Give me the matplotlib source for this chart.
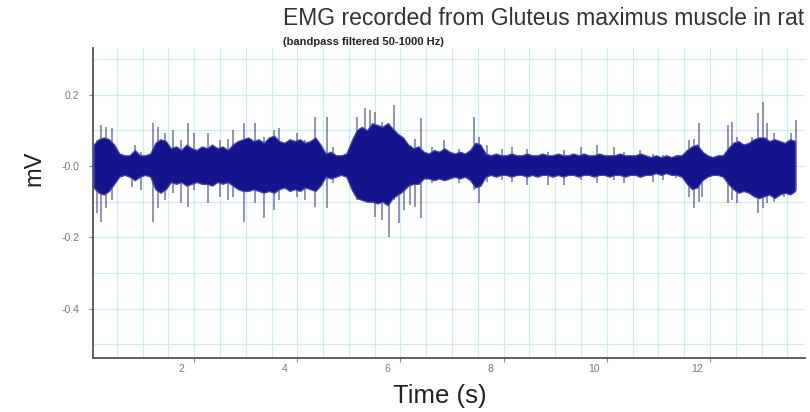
#!/usr/bin/env python3
# -*- coding: utf-8 -*-
import numpy as np
import matplotlib

matplotlib.use("Agg")

import matplotlib.pyplot as plt
import matplotlib.ticker as mticker
import matplotlib.transforms as mtransforms

IMAGE_DPI = 100.0

# dense core of the EMG trace, one value per 0.1 s bin (mV)
bin_start = 0.05
bin_width = 0.1
core_hi = [
    0.06, 0.075, 0.08, 0.075, 0.06, 0.035, 0.03, 0.03, 0.045, 0.03,
    0.03, 0.035, 0.065, 0.075, 0.07, 0.05, 0.055, 0.045, 0.06, 0.05,
    0.045, 0.055, 0.05, 0.06, 0.05, 0.055, 0.045, 0.06, 0.07, 0.075,
    0.08, 0.07, 0.075, 0.065, 0.08, 0.085, 0.07, 0.065, 0.075, 0.07,
    0.075, 0.065, 0.07, 0.08, 0.06, 0.035, 0.04, 0.03, 0.03, 0.035,
    0.07, 0.1, 0.11, 0.1, 0.12, 0.115, 0.11, 0.12, 0.105, 0.09,
    0.08, 0.06, 0.05, 0.055, 0.04, 0.035, 0.045, 0.04, 0.05, 0.04,
    0.035, 0.04, 0.035, 0.045, 0.065, 0.06, 0.035, 0.03, 0.035, 0.03,
    0.03, 0.035, 0.03, 0.03, 0.035, 0.03, 0.03, 0.035, 0.03, 0.03,
    0.035, 0.03, 0.03, 0.035, 0.03, 0.035, 0.03, 0.03, 0.035, 0.03,
    0.03, 0.03, 0.035, 0.03, 0.03, 0.03, 0.035, 0.03, 0.025, 0.03,
    0.025, 0.03, 0.025, 0.03, 0.03, 0.045, 0.055, 0.06, 0.04, 0.03,
    0.025, 0.03, 0.03, 0.05, 0.065, 0.07, 0.06, 0.065, 0.075, 0.08,
    0.08, 0.07, 0.075, 0.07, 0.065, 0.075, 0.07,
]
core_lo = [
    -0.06, -0.075, -0.08, -0.07, -0.05, -0.03, -0.025, -0.03, -0.04, -0.03,
    -0.025, -0.03, -0.065, -0.075, -0.065, -0.045, -0.05, -0.045, -0.055, -0.05,
    -0.045, -0.05, -0.05, -0.055, -0.045, -0.05, -0.045, -0.055, -0.065, -0.07,
    -0.07, -0.065, -0.07, -0.075, -0.07, -0.075, -0.065, -0.06, -0.07, -0.065,
    -0.07, -0.06, -0.065, -0.07, -0.055, -0.03, -0.035, -0.03, -0.025, -0.03,
    -0.065, -0.09, -0.095, -0.1, -0.1, -0.105, -0.1, -0.11, -0.09, -0.08,
    -0.07, -0.055, -0.05, -0.05, -0.035, -0.035, -0.04, -0.035, -0.04, -0.035,
    -0.03, -0.035, -0.03, -0.04, -0.06, -0.055, -0.03, -0.025, -0.03, -0.025,
    -0.025, -0.03, -0.025, -0.025, -0.03, -0.025, -0.03, -0.025, -0.025, -0.03,
    -0.025, -0.03, -0.025, -0.025, -0.03, -0.025, -0.025, -0.03, -0.025, -0.025,
    -0.03, -0.025, -0.025, -0.03, -0.025, -0.025, -0.03, -0.025, -0.025, -0.02,
    -0.025, -0.02, -0.025, -0.025, -0.03, -0.05, -0.065, -0.06, -0.04, -0.03,
    -0.025, -0.025, -0.03, -0.05, -0.065, -0.075, -0.07, -0.075, -0.085, -0.09,
    -0.085, -0.08, -0.09, -0.08, -0.075, -0.08, -0.07,
]

# individual spikes sticking out of the core (time s, top mV, bottom mV)
spike_t = [
    0.11, 0.20, 0.30, 0.40, 0.79, 0.85, 0.98, 1.21, 1.30, 1.43, 1.59, 1.75,
    1.88, 2.00, 2.27, 2.50, 2.66, 2.75, 2.96, 3.18, 3.35, 3.54, 3.64, 3.99,
    4.15, 4.35, 4.57, 4.70, 5.15, 5.32, 5.41, 5.51, 5.64, 5.77, 5.87, 5.97,
    6.06, 6.19, 6.29, 6.39, 6.61, 6.84, 7.13, 7.42, 7.52, 7.68, 7.97, 8.16,
    8.46, 8.85, 9.17, 9.49, 9.81, 10.14, 10.33, 10.65, 10.90, 11.08, 11.34,
    11.60, 11.69, 11.79, 11.85, 12.18, 12.34, 12.42, 12.53, 12.66, 12.82,
    12.92, 13.02, 13.11, 13.24, 13.44, 13.57, 13.66,
]
spike_hi = [
    0.073, 0.115, 0.11, 0.106, 0.035, 0.059, 0.04, 0.12, 0.11, 0.092, 0.101, 0.073,
    0.12, 0.092, 0.092, 0.073, 0.077, 0.101, 0.12, 0.12, 0.082, 0.101, 0.106, 0.092,
    0.073, 0.138, 0.138, 0.054, 0.138, 0.162, 0.157, 0.152, 0.124, 0.12, 0.171, 0.073,
    0.063, 0.059, 0.077, 0.134, 0.054, 0.073, 0.049, 0.138, 0.082, 0.059, 0.049, 0.054,
    0.049, 0.04, 0.045, 0.054, 0.059, 0.054, 0.04, 0.045, 0.035, 0.03, 0.031,
    0.073, 0.077, 0.12, 0.045, 0.026, 0.115, 0.124, 0.082, 0.063, 0.082,
    0.148, 0.18, 0.12, 0.092, 0.063, 0.092, 0.129,
]
spike_lo = [
    -0.133, -0.156, -0.119, -0.095, -0.058, -0.04, -0.067, -0.156, -0.119, -0.095, -0.077, -0.105,
    -0.114, -0.067, -0.105, -0.086, -0.095, -0.086, -0.156, -0.105, -0.147, -0.123, -0.095, -0.086,
    -0.095, -0.114, -0.119, -0.049, -0.095, -0.067, -0.105, -0.142, -0.151, -0.198, -0.095, -0.161,
    -0.123, -0.109, -0.114, -0.147, -0.049, -0.035, -0.049, -0.067, -0.105, -0.044, -0.039, -0.044,
    -0.053, -0.053, -0.053, -0.04, -0.049, -0.04, -0.049, -0.035, -0.044, -0.039, -0.035,
    -0.086, -0.119, -0.1, -0.086, -0.021, -0.105, -0.095, -0.105, -0.067, -0.077,
    -0.133, -0.119, -0.105, -0.1, -0.086, -0.077, -0.067,
]

x_ticks = [2, 4, 6, 8, 10, 12]
y_ticks = [0.2, 0.0, -0.2, -0.4]
y_tick_labels = ["0.2", "-0.0", "-0.2", "-0.4"]

plt.rcParams["font.family"] = ["Liberation Sans", "DejaVu Sans"]

fig = plt.figure(facecolor="white")
fig.set_size_inches(810 / IMAGE_DPI, 412 / IMAGE_DPI)
ax = fig.add_axes([0.1148, 0.131, 0.879, 0.752])

t = bin_start + bin_width * np.arange(len(core_hi))

# spikes first, core on top
ax.vlines(spike_t, spike_lo, spike_hi, color="#5c5c9c", linewidth=1.1, alpha=0.85, zorder=3)
ax.fill_between(t, core_lo, core_hi, facecolor="#14148c",
                edgecolor="#4646ac", linewidth=0.9, zorder=4)

ax.set_xlim(0.04, 13.84)
ax.set_ylim(-0.538, 0.33)

ax.xaxis.set_major_locator(mticker.FixedLocator(x_ticks))
ax.xaxis.set_minor_locator(mticker.MultipleLocator(0.5))
ax.yaxis.set_major_locator(mticker.FixedLocator(y_ticks))
ax.yaxis.set_major_formatter(mticker.FixedFormatter(y_tick_labels))
ax.yaxis.set_minor_locator(mticker.MultipleLocator(0.1))

ax.grid(axis="x", which="both", color="#cdeeee", linewidth=0.9)
ax.grid(axis="y", which="both", color="#cdeeee", linewidth=0.9)
ax.set_axisbelow(True)

for side in ["top", "right"]:
    ax.spines[side].set_visible(False)
for side in ["left", "bottom"]:
    ax.spines[side].set_color("#555555")
    ax.spines[side].set_linewidth(1.3)

ax.tick_params(axis="both", which="major", length=3, width=0.8, color="#888888",
               labelsize=7.5, labelcolor="#777777")
ax.tick_params(axis="both", which="minor", length=0)
ax.tick_params(axis="x", pad=1)
ax.tick_params(axis="y", pad=7)

# x labels sit a bit left of their ticks in the original
shift = mtransforms.ScaledTranslation(-13 / IMAGE_DPI, 0, fig.dpi_scale_trans)
for label in ax.get_xticklabels():
    label.set_transform(label.get_transform() + shift)

fig.text(0.349, 0.956, "EMG recorded from Gluteus maximus muscle in rat",
         ha="left", va="center", fontsize=16.5, color="#333333")
fig.text(0.349, 0.898, "(bandpass filtered 50-1000 Hz)",
         ha="left", va="center", fontsize=8, fontweight="bold", color="#222222")
fig.text(0.043, 0.592, "mV", rotation=90, ha="center", va="center",
         fontsize=17, color="#222222")
fig.text(0.543, 0.039, "Time (s)", ha="center", va="center",
         fontsize=18.5, color="#222222")

plt.savefig("out.png", dpi=IMAGE_DPI, facecolor="white")
